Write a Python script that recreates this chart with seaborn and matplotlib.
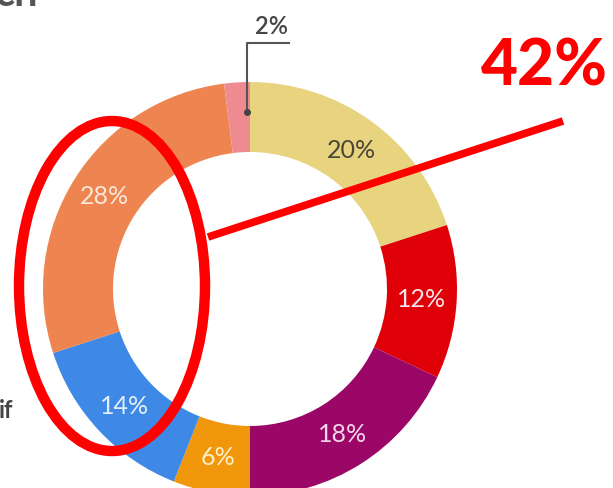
import matplotlib.pyplot as plt
import seaborn as sns
from matplotlib.patches import Ellipse

# slices, clockwise from 12 o'clock
shares = [20, 12, 18, 6, 14, 28, 2]
share_labels = ["20%", "12%", "18%", "6%", "14%", "28%", ""]
slice_colors = ["#E8D37F", "#E00008", "#9B0766", "#F0970C", "#3F89E6", "#EE8551", "#EE8B91"]
label_colors = ["#4A4638", "#F8E4E8", "#F3D6EA", "#FBEFC8", "#E4EEFB", "#FBE6DA", "#FFFFFF"]
small_label = "2%"
callout = "42%"

sns.set_theme(style="white")
plt.rcParams["font.family"] = ["Lato", "DejaVu Sans"]

fig = plt.figure(figsize=(6.13, 4.88), dpi=100)
ax = fig.add_axes([0, 0, 1, 1])

wedges, texts = ax.pie(
    shares,
    labels=share_labels,
    colors=sns.color_palette(slice_colors),
    startangle=90,
    counterclock=False,
    center=(250, 199),
    radius=207,
    labeldistance=0.83,
    wedgeprops=dict(width=70, linewidth=0),
    textprops=dict(fontsize=18, ha="center", va="center"),
)
for t, c in zip(texts, label_colors):
    t.set_color(c)
    t.set_horizontalalignment("center")
    t.set_verticalalignment("center")

# leader for the small slice
ax.plot([247, 247, 290], [376, 445, 445], color="#555555", lw=1.5, solid_capstyle="butt")
ax.plot([247], [376], "o", color="#444444", ms=4)
ax.text(271, 461, small_label, fontsize=17, fontweight="semibold", color="#444444",
        ha="center", va="center")

# red highlight
ax.add_patch(Ellipse((112, 202), 186, 330, fill=False, edgecolor="#FF0000", lw=7.5))
ax.plot([208, 563], [251, 367], color="#FF0000", lw=5.5, solid_capstyle="butt")
ax.text(544, 421, callout, fontsize=46, fontweight="black", color="#FF0000",
        ha="center", va="center")

# cut-off text from the source page
ax.text(38, 494, "ch", fontsize=30, fontweight="bold", color="#555555", ha="right", va="center")
ax.text(13, 77, "if", fontsize=17, fontweight="bold", color="#444444", ha="right", va="center")

ax.set_xlim(0, 613)
ax.set_ylim(0, 488)
ax.set_aspect("equal")
ax.axis("off")

fig.savefig("out.png", dpi=100)
